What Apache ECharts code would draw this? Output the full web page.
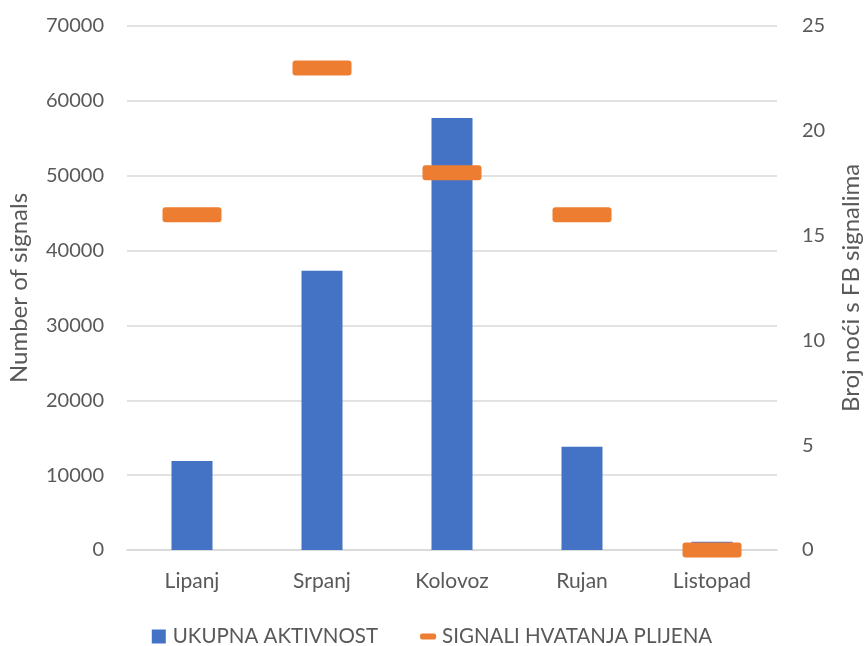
<!DOCTYPE html>
<html>
<head>
<meta charset="utf-8">
<script src="https://cdn.jsdelivr.net/npm/echarts@6/dist/echarts.min.js"></script>
<style>
  html, body { margin: 0; padding: 0; background: #fff; }
  #chart { width: 864px; height: 646px; }
</style>
</head>
<body>
<div id="chart"></div>
<script>
// Monthly activity (left axis) and number of nights with feeding buzzes (right axis)
const months = ['Lipanj', 'Srpanj', 'Kolovoz', 'Rujan', 'Listopad'];
const totalActivity = [11900, 37300, 57700, 13800, 1100];
const preyCaptureNights = [16, 23, 18, 16, 0];

const leftTicks = { min: 0, max: 70000, interval: 10000 };
const rightTicks = { min: 0, max: 25, interval: 5 };

const textColor = '#595959';
const gridColor = '#D9D9D9';
const font = 'Lato, "Open Sans", sans-serif';

// flat dash with slightly rounded corners
const dashSymbol = 'path://M3,0 H56 Q59,0 59,3 V12 Q59,15 56,15 H3 Q0,15 0,12 V3 Q0,0 3,0 Z';

const chart = echarts.init(document.getElementById('chart'));
chart.setOption({
  animation: false,
  backgroundColor: '#ffffff',
  textStyle: { fontFamily: font, color: textColor },
  grid: { left: 127, right: 87, top: 26, bottom: 96, containLabel: false, outerBoundsMode: 'none' },
  legend: {
    left: 'center', top: 621,
    itemGap: 42,
    itemWidth: 16, itemHeight: 14,
    data: [
      { name: 'UKUPNA AKTIVNOST', icon: 'path://M0,0 H14 V14 H0 Z' },
      { name: 'SIGNALI HVATANJA PLIJENA', icon: 'path://M2,4 H14 Q16,4 16,6 V8 Q16,10 14,10 H2 Q0,10 0,8 V6 Q0,4 2,4 Z' }
    ],
    textStyle: { fontFamily: font, fontSize: 20.5, color: textColor, padding: [0, 0, 0, 1] }
  },
  xAxis: {
    type: 'category',
    data: months,
    axisLine: { show: true, lineStyle: { color: gridColor, width: 1.5 } },
    axisTick: { show: false },
    axisLabel: { color: textColor, fontSize: 21, margin: 21, fontFamily: font }
  },
  yAxis: [
    {
      type: 'value',
      min: leftTicks.min, max: leftTicks.max, interval: leftTicks.interval,
      name: 'Number of signals',
      nameLocation: 'middle', nameGap: 96, nameRotate: 90,
      nameTextStyle: { color: textColor, fontSize: 24, fontFamily: font },
      axisLine: { show: false }, axisTick: { show: false },
      axisLabel: { color: textColor, fontSize: 20, margin: 23, fontFamily: font, formatter: v => String(v) },
      splitLine: { lineStyle: { color: gridColor, width: 1.5 } }
    },
    {
      type: 'value',
      min: rightTicks.min, max: rightTicks.max, interval: rightTicks.interval,
      name: 'Broj noći s FB signalima',
      nameLocation: 'middle', nameGap: 62, nameRotate: 90,
      nameTextStyle: { color: textColor, fontSize: 24, fontFamily: font },
      axisLine: { show: false }, axisTick: { show: false },
      axisLabel: { color: textColor, fontSize: 20, margin: 25, fontFamily: font },
      splitLine: { show: false }
    }
  ],
  series: [
    {
      name: 'UKUPNA AKTIVNOST',
      type: 'bar',
      data: totalActivity,
      barWidth: 41,
      itemStyle: { color: '#4472C4' },
      z: 2
    },
    {
      name: 'SIGNALI HVATANJA PLIJENA',
      type: 'scatter',
      yAxisIndex: 1,
      data: preyCaptureNights,
      symbol: dashSymbol,
      symbolSize: [59, 15],
      itemStyle: { color: '#ED7D31', opacity: 1 },
      z: 3
    }
  ]
});
</script>
</body>
</html>
